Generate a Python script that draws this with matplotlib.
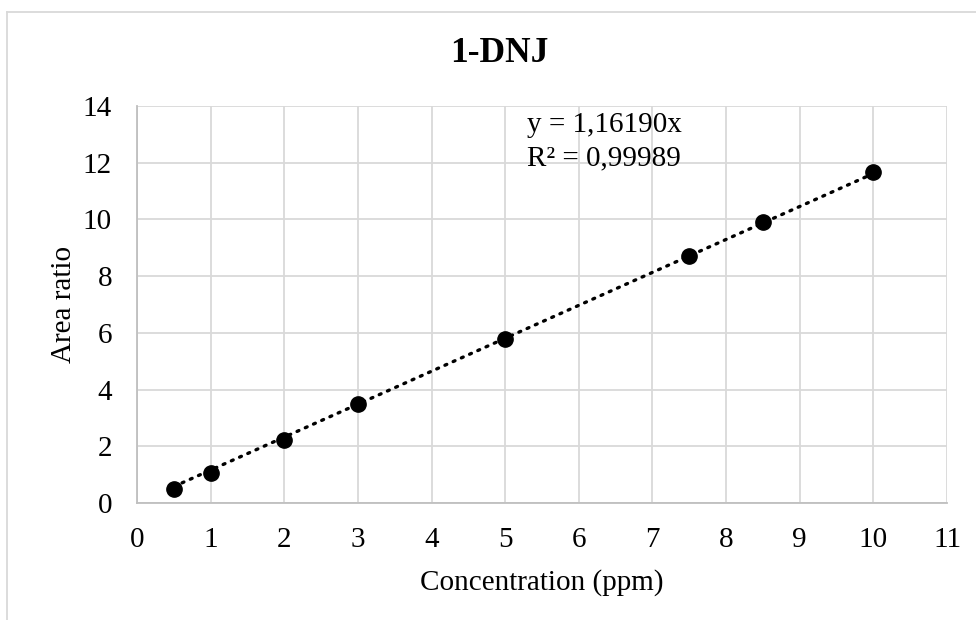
import numpy as np
import matplotlib
matplotlib.use("Agg")
import matplotlib.pyplot as plt
from matplotlib.lines import Line2D

# Calibration data for 1-DNJ
concentration = [0.5, 1, 2, 3, 5, 7.5, 8.5, 10]
area_ratio = [0.49, 1.05, 2.22, 3.49, 5.80, 8.72, 9.90, 11.68]
slope = 1.16190
r_squared = 0.99989

x_ticks = list(range(0, 12))
y_ticks = list(range(0, 15, 2))

plt.rcParams['font.family'] = ['Liberation Serif', 'DejaVu Serif']

fig = plt.figure(figsize=(9.76, 6.2), dpi=100)
ax = fig.add_axes([0.1404, 0.1887, 0.8299, 0.6403])

grid_c = '#d9d9d9'
axis_c = '#bfbfbf'
fs = 21

ax.set_xlim(0, 11)
ax.set_ylim(0, 14)
ax.set_xticks(x_ticks)
ax.set_yticks(y_ticks)
ax.grid(True, color=grid_c, linewidth=1.3)
ax.set_axisbelow(True)
for s in ['top', 'right']:
    ax.spines[s].set_visible(False)
for s in ['left', 'bottom']:
    ax.spines[s].set_color(axis_c)
    ax.spines[s].set_linewidth(1.3)
ax.tick_params(length=0, labelsize=fs, colors='black')
ax.tick_params(axis='x', pad=17)
ax.tick_params(axis='y', pad=18)

# Linear trendline through the origin
xs = np.array([min(concentration), max(concentration)])
ax.plot(xs, slope * xs, color='black', linewidth=2.4,
        linestyle=(0, (0.6, 2.1)), dash_capstyle='round', zorder=3)
ax.plot(concentration, area_ratio, 'o', color='black', markersize=11, zorder=4)

ax.set_xlabel('Concentration (ppm)', fontsize=fs, labelpad=12)
ax.set_ylabel('Area ratio', fontsize=fs, labelpad=4)

fig.text(499 / 976, 1 - 53 / 620, '1-DNJ', fontsize=25.5, fontweight='bold',
         ha='center', va='center')

ax.text(0.4815, 0.935, f'y = {slope:.5f}x'.replace('.', ','), transform=ax.transAxes,
        fontsize=fs, va='baseline', ha='left')
ax.text(0.4815, 0.851, f'R² = {r_squared:.5f}'.replace('.', ','), transform=ax.transAxes,
        fontsize=fs, va='baseline', ha='left')

# Chart area border
fig.add_artist(Line2D([7 / 976, 1.0], [1 - 12 / 620, 1 - 12 / 620],
                      transform=fig.transFigure, color=grid_c, linewidth=1.3))
fig.add_artist(Line2D([7 / 976, 7 / 976], [0.0, 1 - 12 / 620],
                      transform=fig.transFigure, color=grid_c, linewidth=1.3))

fig.savefig('out.png', dpi=100)
